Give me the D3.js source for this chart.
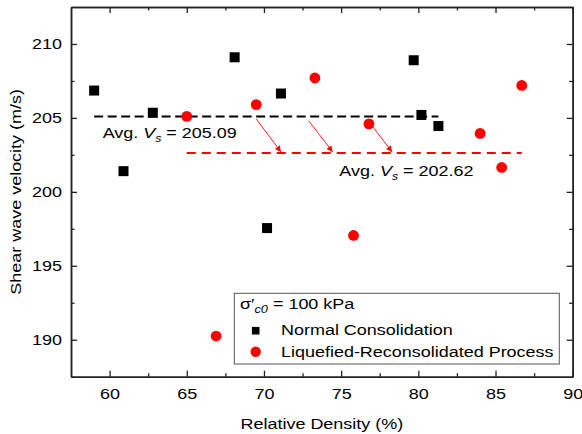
<!DOCTYPE html>
<html>
<head>
<meta charset="utf-8">
<script src="https://cdn.jsdelivr.net/npm/d3@7"></script>
<style>
  body { margin: 0; background: #fff; }
  text { font-family: "Liberation Sans", Arial, sans-serif; fill: #000; }
</style>
</head>
<body>
<div id="chart"></div>
<script>
// Normal consolidation (black squares)
var ncDensity = [59.0, 60.9, 62.8, 68.1, 71.1, 70.2, 79.7, 80.2, 81.3];
var ncVs = [206.85, 201.4, 205.35, 209.1, 206.65, 197.55, 208.9, 205.2, 204.45];
// Liquefied-reconsolidated process (red circles)
var lrDensity = [65.0, 69.5, 73.3, 76.8, 84.0, 85.4, 86.7, 75.8, 66.9];
var lrVs = [205.1, 205.9, 207.7, 204.6, 203.95, 201.65, 207.2, 197.05, 190.25];

var ncAvg = 205.09, lrAvg = 202.62;

// arrows: [x0, y0, x1, y1] in data units
var arrows = [
  [69.5, 204.93, 71.1, 202.7],
  [72.9, 204.8, 74.45, 202.7],
  [77.05, 204.4, 78.3, 202.7]
];

var xTicks = [60, 65, 70, 75, 80, 85, 90];
var xMinor = [62.5, 67.5, 72.5, 77.5, 82.5, 87.5];
var yTicks = [190, 195, 200, 205, 210];
var yMinor = [192.5, 197.5, 202.5, 207.5];

var SX = 1.16; // glyphs are wider than Arial
var FS = 15.5;

var margin = { top: 7, right: 9.3, bottom: 57.3, left: 71 },
  width = 582 - margin.left - margin.right,
  height = 434 - margin.top - margin.bottom;

var svg = d3.select("#chart")
  .append("svg")
  .attr("width", 582)
  .attr("height", 434)
  .append("g")
  .attr("transform", "translate(" + margin.left + "," + margin.top + ")");

var x = d3.scaleLinear().domain([57.5, 90]).range([0, width]);
var y = d3.scaleLinear().domain([187.5, 212.5]).range([height, 0]);

function frameAxis(g) {
  g.selectAll("path").attr("stroke", "#222").attr("stroke-width", 1.5);
  g.selectAll("line").attr("stroke", "#222").attr("stroke-width", 1.3);
}

// bottom
svg.append("g")
  .attr("transform", "translate(0," + height + ")")
  .call(d3.axisBottom(x).tickValues(xTicks).tickSizeInner(-6).tickSizeOuter(0).tickPadding(11))
  .call(frameAxis)
  .call(function (g) {
    g.selectAll("text")
      .attr("y", null)
      .attr("transform", "translate(0,11) scale(" + SX + ",1)")
      .style("font-size", FS + "px")
      .style("font-family", "Liberation Sans, Arial, sans-serif");
  });
svg.append("g")
  .attr("transform", "translate(0," + height + ")")
  .call(d3.axisBottom(x).tickValues(xMinor).tickSizeInner(-3.5).tickSizeOuter(0).tickFormat(""))
  .call(frameAxis);

// top
svg.append("g")
  .call(d3.axisTop(x).tickValues(xTicks).tickSizeInner(-6).tickSizeOuter(0).tickFormat(""))
  .call(frameAxis);
svg.append("g")
  .call(d3.axisTop(x).tickValues(xMinor).tickSizeInner(-3.5).tickSizeOuter(0).tickFormat(""))
  .call(frameAxis);

// left
svg.append("g")
  .call(d3.axisLeft(y).tickValues(yTicks).tickSizeInner(-6).tickSizeOuter(0).tickPadding(9))
  .call(frameAxis)
  .call(function (g) {
    g.selectAll("text")
      .attr("x", null)
      .attr("transform", "translate(-9,0) scale(" + SX + ",1)")
      .style("font-size", FS + "px")
      .style("font-family", "Liberation Sans, Arial, sans-serif");
  });
svg.append("g")
  .call(d3.axisLeft(y).tickValues(yMinor).tickSizeInner(-3.5).tickSizeOuter(0).tickFormat(""))
  .call(frameAxis);

// right
svg.append("g")
  .attr("transform", "translate(" + width + ",0)")
  .call(d3.axisRight(y).tickValues(yTicks).tickSizeInner(-6).tickSizeOuter(0).tickFormat(""))
  .call(frameAxis);
svg.append("g")
  .attr("transform", "translate(" + width + ",0)")
  .call(d3.axisRight(y).tickValues(yMinor).tickSizeInner(-3.5).tickSizeOuter(0).tickFormat(""))
  .call(frameAxis);

// axis titles
svg.append("text")
  .attr("text-anchor", "middle")
  .attr("transform", "translate(" + (width / 2) + "," + (height + 52) + ") scale(" + SX + ",1)")
  .style("font-size", FS + "px")
  .text("Relative Density (%)");

svg.append("text")
  .attr("text-anchor", "middle")
  .attr("transform", "translate(" + (21 - margin.left) + "," + (height / 2) + ") rotate(-90) scale(" + SX + ",1)")
  .style("font-size", FS + "px")
  .text("Shear wave velocity (m/s)");

// average lines
var ncExt = d3.extent(ncDensity), lrExt = d3.extent(lrDensity);
svg.append("line")
  .attr("x1", x(ncExt[0])).attr("x2", x(ncExt[1]))
  .attr("y1", y(ncAvg)).attr("y2", y(ncAvg))
  .attr("stroke", "#000").attr("stroke-width", 2)
  .attr("stroke-dasharray", "9,4.5");
svg.append("line")
  .attr("x1", x(lrExt[0])).attr("x2", x(lrExt[1]))
  .attr("y1", y(lrAvg)).attr("y2", y(lrAvg))
  .attr("stroke", "#ff0000").attr("stroke-width", 2)
  .attr("stroke-dasharray", "9,6");

// arrows
svg.append("defs").append("marker")
  .attr("id", "head")
  .attr("viewBox", "0 0 10 10")
  .attr("refX", 10).attr("refY", 5)
  .attr("markerWidth", 9).attr("markerHeight", 6)
  .attr("markerUnits", "userSpaceOnUse")
  .attr("orient", "auto")
  .append("path")
  .attr("d", "M0,0 L10,5 L0,10 Z")
  .attr("fill", "#ff0000");

svg.append("g").selectAll("line")
  .data(arrows)
  .enter()
  .append("line")
  .attr("x1", function (d) { return x(d[0]); })
  .attr("y1", function (d) { return y(d[1]); })
  .attr("x2", function (d) { return x(d[2]); })
  .attr("y2", function (d) { return y(d[3]); })
  .attr("stroke", "#ff0000")
  .attr("stroke-width", 0.9)
  .attr("marker-end", "url(#head)");

// points
svg.append("g").selectAll("rect")
  .data(ncDensity)
  .enter()
  .append("rect")
  .attr("x", function (d) { return x(d) - 5; })
  .attr("y", function (d, i) { return y(ncVs[i]) - 5; })
  .attr("width", 10).attr("height", 10)
  .attr("fill", "#000");

svg.append("g").selectAll("circle")
  .data(lrDensity)
  .enter()
  .append("circle")
  .attr("cx", function (d) { return x(d); })
  .attr("cy", function (d, i) { return y(lrVs[i]); })
  .attr("r", 5.4)
  .attr("fill", "#ff0000");

// average labels
function avgLabel(px, py, val) {
  var t = svg.append("text")
    .attr("transform", "translate(" + px + "," + py + ") scale(" + SX + ",1)")
    .style("font-size", FS + "px");
  t.append("tspan").text("Avg. ");
  t.append("tspan").style("font-style", "italic").text("V");
  t.append("tspan").style("font-style", "italic").style("font-size", "10.5px").attr("dy", 4).text("s");
  t.append("tspan").attr("dy", -4).text(" = " + val.toFixed(2));
}
avgLabel(102.7 - margin.left, 138.3 - margin.top, ncAvg);
avgLabel(339.3 - margin.left, 176 - margin.top, lrAvg);

// legend
var lg = svg.append("g").attr("transform", "translate(" + (234.3 - margin.left) + "," + (293.3 - margin.top) + ")");
lg.append("rect")
  .attr("width", 325).attr("height", 70.7)
  .attr("fill", "#fff")
  .attr("stroke", "#555").attr("stroke-width", 1);

var tt = lg.append("text")
  .attr("transform", "translate(5.7,16) scale(" + SX + ",1)")
  .style("font-size", FS + "px");
tt.append("tspan").text("\u03c3\u2032");
tt.append("tspan").style("font-style", "italic").style("font-size", "11px").attr("dy", 4).text("c0");
tt.append("tspan").attr("dy", -4).text(" = 100 kPa");

lg.append("rect")
  .attr("x", 21.4 - 3.8).attr("y", 37.4 - 3.8)
  .attr("width", 7.6).attr("height", 7.6)
  .attr("fill", "#000");
lg.append("text")
  .attr("transform", "translate(46.7,41.7) scale(" + SX + ",1)")
  .style("font-size", FS + "px")
  .text("Normal Consolidation");

lg.append("circle")
  .attr("cx", 21.4).attr("cy", 58.4)
  .attr("r", 5.2)
  .attr("fill", "#ff0000");
lg.append("text")
  .attr("transform", "translate(46.7,63.7) scale(" + SX + ",1)")
  .style("font-size", FS + "px")
  .text("Liquefied-Reconsolidated Process");
</script>
</body>
</html>
